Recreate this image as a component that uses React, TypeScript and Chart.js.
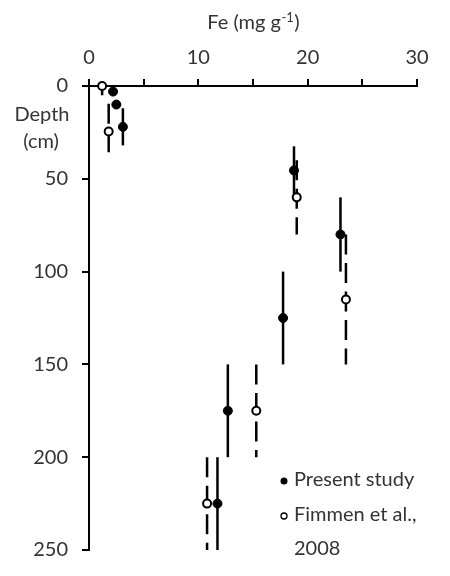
import React, { useEffect, useRef } from "react";
import { Chart, registerables } from "chart.js";

Chart.register(...registerables);

// ---- data ----
const presentFe = [2.2, 2.5, 3.1, 18.75, 23.0, 17.75, 12.7, 11.75];
const presentDepth = [3, 10, 22, 45.5, 80, 125, 175, 225];
const presentErr = [0, 0, 10, 13, 20, 25, 25, 25];

const fimmenFe = [1.2, 1.8, 19.0, 23.5, 15.3, 10.8];
const fimmenDepth = [0, 24.5, 60, 115, 175, 225];
const fimmenErr = [5, 15, 20, 35, 25, 25];

const xMin = 0, xMax = 30, xStep = 5, xLabelStep = 10;
const yMin = 0, yMax = 250, yStep = 50;

const titleMain = "Fe (mg g";
const titleSup = "-1";
const titleEnd = ")";
const yTitleLines = ["Depth", "(cm)"];
const legendPresent = ["Present study"];
const legendFimmen = ["Fimmen et al.,", "2008"];

const FONT = "Lato, 'Open Sans', sans-serif";
const TXT = "#333";

const errorBarPlugin = {
  id: "errorBars",
  beforeDatasetsDraw(chart: any) {
    const ctx = chart.ctx;
    const xs = chart.scales.x;
    const ys = chart.scales.y;
    const area = chart.chartArea;
    ctx.save();
    ctx.beginPath();
    ctx.rect(area.left - 20, area.top, area.right - area.left + 40, area.bottom - area.top);
    ctx.clip();
    chart.data.datasets.forEach((ds: any) => {
      const errs: number[] = ds.errs;
      const dashed: boolean = ds.dashedErr;
      ds.data.forEach((p: any, i: number) => {
        const e = errs[i];
        if (!e) return;
        const px = xs.getPixelForValue(p.x);
        const top = ys.getPixelForValue(p.y - e);
        const bot = ys.getPixelForValue(p.y + e);
        ctx.beginPath();
        ctx.strokeStyle = "#000";
        ctx.lineWidth = 2.5;
        ctx.lineCap = "butt";
        ctx.setLineDash(dashed ? [20, 8.5] : []);
        ctx.moveTo(px, top);
        ctx.lineTo(px, bot);
        ctx.stroke();
      });
    });
    ctx.restore();
  },
};

const textPlugin = {
  id: "texts",
  afterDraw(chart: any) {
    const ctx = chart.ctx;
    const area = chart.chartArea;
    ctx.save();
    ctx.fillStyle = TXT;
    // top title with superscript
    const f = `20px ${FONT}`;
    const fs = `13px ${FONT}`;
    ctx.font = f;
    const w1 = ctx.measureText(titleMain).width;
    const w3 = ctx.measureText(titleEnd).width;
    ctx.font = fs;
    const w2 = ctx.measureText(titleSup).width;
    const total = w1 + w2 + w3;
    let x = (area.left + area.right) / 2 - total / 2;
    const yb = 29;
    ctx.textBaseline = "alphabetic";
    ctx.textAlign = "left";
    ctx.font = f;
    ctx.fillText(titleMain, x, yb);
    x += w1;
    ctx.font = fs;
    ctx.fillText(titleSup, x + 0.5, yb - 7);
    x += w2 + 1;
    ctx.font = f;
    ctx.fillText(titleEnd, x, yb);

    // y title
    ctx.textAlign = "center";
    ctx.textBaseline = "middle";
    ctx.fillText(yTitleLines[0], 42, 115);
    ctx.fillText(yTitleLines[1], 41, 142);

    // legend
    ctx.textAlign = "left";
    const mx = 284;
    const tx = 294;
    ctx.beginPath();
    ctx.fillStyle = "#000";
    ctx.arc(mx, 481, 3.5, 0, Math.PI * 2);
    ctx.fill();
    ctx.fillStyle = TXT;
    ctx.fillText(legendPresent[0], tx, 480);

    ctx.beginPath();
    ctx.strokeStyle = "#000";
    ctx.lineWidth = 1.3;
    ctx.arc(mx, 516, 3, 0, Math.PI * 2);
    ctx.stroke();
    ctx.fillText(legendFimmen[0], tx, 515);
    ctx.fillText(legendFimmen[1], tx, 549);
    ctx.restore();
  },
};

export default function App() {
  const ref = useRef<HTMLCanvasElement | null>(null);
  useEffect(() => {
    if (!ref.current) return;
    const chart = new Chart(ref.current, {
      type: "scatter",
      data: {
        datasets: [
          {
            label: "Present study",
            data: presentFe.map((v, i) => ({ x: v, y: presentDepth[i] })),
            pointRadius: 4.5,
            pointBackgroundColor: "#000",
            pointBorderColor: "#000",
            pointBorderWidth: 1,
            clip: false,
            errs: presentErr,
            dashedErr: false,
          } as any,
          {
            label: "Fimmen et al., 2008",
            data: fimmenFe.map((v, i) => ({ x: v, y: fimmenDepth[i] })),
            pointRadius: 4,
            pointBackgroundColor: "#fff",
            pointBorderColor: "#000",
            pointBorderWidth: 2,
            clip: false,
            errs: fimmenErr,
            dashedErr: true,
          } as any,
        ],
      },
      options: {
        responsive: false,
        animation: false,
        events: [],
        layout: { padding: { left: 0, top: 0, right: 33, bottom: 14 } },
        plugins: { legend: { display: false }, tooltip: { enabled: false } },
        scales: {
          x: {
            type: "linear",
            position: "top",
            min: xMin,
            max: xMax,
            afterFit: (s: any) => { s.height = 86; },
            ticks: {
              stepSize: xStep,
              padding: 9,
              color: TXT,
              font: { family: FONT, size: 20 },
              callback: (v: any) => (Number(v) % xLabelStep === 0 ? String(v) : ""),
            },
            grid: { drawOnChartArea: false, drawTicks: true, tickLength: 7, color: "#000", lineWidth: 2 },
            border: { color: "#000", width: 2 },
          },
          y: {
            type: "linear",
            reverse: true,
            min: yMin,
            max: yMax,
            afterFit: (s: any) => { s.width = 89; },
            ticks: {
              stepSize: yStep,
              padding: 14,
              color: TXT,
              font: { family: FONT, size: 20 },
            },
            grid: { drawOnChartArea: false, drawTicks: true, tickLength: 7, color: "#000", lineWidth: 2 },
            border: { color: "#000", width: 2 },
          },
        },
      },
      plugins: [errorBarPlugin, textPlugin],
    });
    return () => chart.destroy();
  }, []);
  return (
    <div style={{ position: "fixed", left: 0, top: 0, width: 450, height: 576, background: "#fff" }}>
      <canvas ref={ref} width={450} height={576} style={{ display: "block" }} />
    </div>
  );
}
